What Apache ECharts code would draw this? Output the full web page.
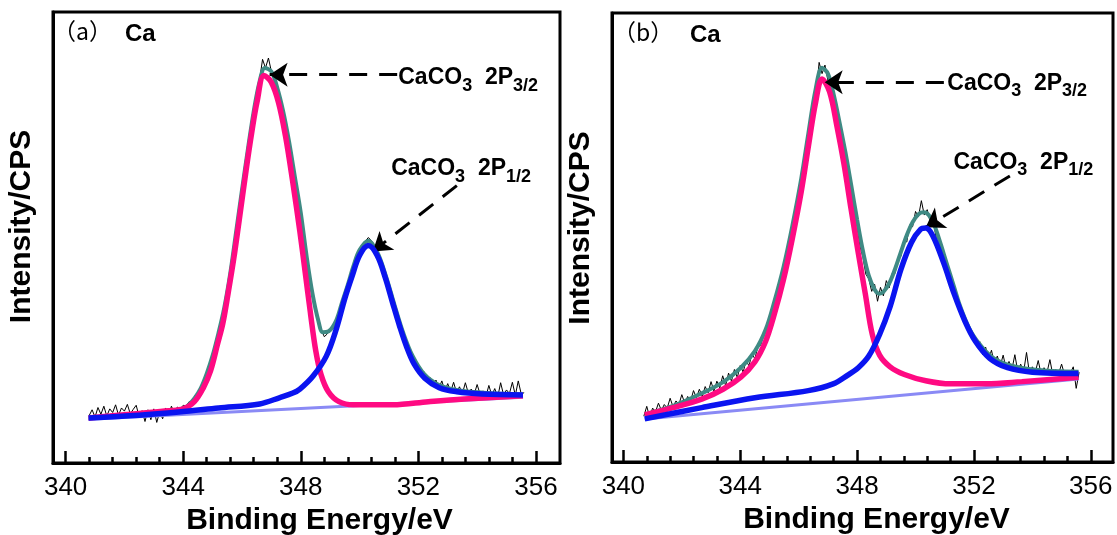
<!DOCTYPE html>
<html>
<head>
<meta charset="utf-8">
<script src="https://cdn.jsdelivr.net/npm/echarts@6.0.0/dist/echarts.min.js"></script>
<style>
  html, body { margin: 0; padding: 0; background: #fff; }
  #chart { width: 1117px; height: 535px; }
</style>
</head>
<body>
<div id="chart"></div>
<script>
// tick positions (eV)
const majorTicks = [340, 344, 348, 352, 356]
const minorTicks = [340.8, 341.6, 342.4, 343.2, 344.8, 345.6, 346.4, 347.2,
  348.8, 349.6, 350.4, 351.2, 352.8, 353.6, 354.4, 355.2]

// panel (a) fitted curves, [binding energy, intensity]
const aPink = [[340.78, 10.0], [341.5, 10.4], [342.5, 11.0], [343.5, 11.6], [344.0, 12.0],
  [344.38, 13.6], [344.68, 16.6], [344.93, 20.4], [345.17, 26.4], [345.35, 31.0],
  [345.53, 37.7], [345.72, 45.3], [345.9, 53.6], [346.14, 64.9], [346.33, 73.2],
  [346.51, 80.0], [346.75, 85.9], [346.99, 84.5], [347.24, 80.0], [347.48, 72.5],
  [347.72, 62.6], [347.97, 51.3], [348.15, 42.3], [348.33, 33.2], [348.51, 24.9],
  [348.69, 19.6], [348.94, 15.8], [349.3, 13.6], [349.79, 12.9], [351.13, 12.9],
  [352.34, 13.6], [353.56, 14.2], [355.56, 14.9]]
const aBlue = [[340.78, 10.0], [342.5, 10.6], [343.85, 11.3], [345.2, 12.2], [346.6, 13.1],
  [347.29, 14.5], [347.73, 15.5], [347.97, 16.4], [348.42, 19.3], [348.87, 23.7],
  [349.2, 29.5], [349.5, 36.5], [349.75, 41.5], [350.0, 46.0], [350.3, 48.2],
  [350.6, 46.0], [350.88, 41.0], [351.13, 35.4], [351.37, 30.2], [351.61, 25.6],
  [351.86, 21.9], [352.22, 18.8], [352.71, 16.7], [353.31, 15.8], [354.17, 15.3],
  [355.56, 15.1]]
const aBase = [[340.78, 9.7], [355.56, 14.6]]
const aEnv = [[340.78, 10.0], [343.9, 11.5], [344.2, 13.0], [344.4, 14.5], [344.6, 16.6],
  [344.8, 19.8], [345.0, 23.8], [345.2, 28.8], [345.4, 34.5], [345.6, 42.0],
  [345.8, 51.2], [346.0, 60.5], [346.2, 69.5], [346.4, 78.0], [346.6, 84.6],
  [346.78, 87.6], [347.0, 86.8], [347.2, 83.2], [347.4, 78.0], [347.6, 71.3],
  [347.8, 63.4], [348.0, 55.5], [348.2, 45.8], [348.4, 37.5], [348.6, 31.5],
  [348.75, 29.0], [348.95, 29.2], [349.2, 31.5], [349.4, 35.5], [349.6, 39.5],
  [349.8, 43.8], [350.0, 47.2], [350.3, 49.3], [350.6, 46.8], [350.9, 41.4],
  [351.2, 34.8], [351.5, 28.6], [351.8, 23.8], [352.2, 19.7], [352.7, 17.3],
  [353.3, 16.2], [354.2, 15.6], [355.56, 15.2]]
// panel (a) raw counts, 0.1 eV steps from 340.8
const aRawStart = 340.8
const aRaw = [10.5, 11.8, 10.2, 12.3, 10.8, 12.6, 10.4, 12.0, 11.2, 12.9,
  10.6, 12.2, 11.5, 13.0, 10.9, 11.9, 12.8, 10.3, 11.6, 9.2,
  11.8, 9.6, 12.0, 9.0, 11.4, 9.8, 12.2, 10.6, 12.6, 11.0,
  12.4, 12.0, 12.8, 12.6, 13.6, 13.5, 15.0, 15.2, 16.8, 17.9,
  19.6, 21.3, 24.0, 26.6, 29.0, 31.4, 34.8, 38.0, 42.3, 46.2,
  51.5, 55.6, 60.8, 65.2, 69.6, 73.6, 78.2, 81.0, 85.0, 89.5,
  87.6, 89.8, 86.8, 85.6, 83.4, 80.2, 78.4, 74.6, 71.8, 67.4,
  63.8, 58.8, 56.0, 50.4, 46.6, 41.2, 38.0, 34.0, 32.2, 29.6,
  28.0, 28.6, 29.6, 29.8, 31.5, 32.4, 34.5, 35.8, 38.4, 40.2,
  43.4, 45.0, 47.3, 47.9, 49.2, 50.0, 49.3, 48.4, 46.9, 45.2,
  43.5, 40.6, 39.0, 36.0, 34.6, 31.8, 30.6, 28.0, 27.2, 24.6,
  24.2, 21.8, 21.6, 19.4, 20.2, 18.2, 18.9, 17.2, 18.4, 16.6,
  18.2, 16.0, 17.6, 15.8, 17.9, 15.6, 16.9, 15.4, 17.8, 15.5,
  16.4, 15.2, 17.4, 15.3, 16.0, 14.8, 17.2, 15.0, 16.5, 14.6,
  17.8, 15.1, 16.2, 15.4, 17.9, 15.0, 18.2, 15.3, 15.6]

// panel (b) fitted curves
const bPink = [[340.73, 10.5], [341.7, 12.1], [342.68, 14.0], [343.41, 16.2], [344.02, 18.9],
  [344.5, 22.3], [344.87, 26.9], [345.17, 33.0], [345.48, 40.6], [345.78, 49.7],
  [346.09, 60.3], [346.33, 70.2], [346.58, 80.1], [346.8, 85.3], [347.06, 82.4],
  [347.31, 74.8], [347.55, 66.4], [347.79, 56.5], [348.04, 46.6], [348.28, 37.5],
  [348.52, 28.4], [348.77, 23.8], [349.13, 21.2], [349.62, 19.5], [350.35, 18.1],
  [351.2, 17.4], [352.42, 17.4], [353.64, 17.9], [355.58, 18.9]]
const bBlue = [[340.73, 9.6], [342.68, 12.1], [344.5, 14.3], [346.33, 15.9], [347.18, 17.4],
  [347.67, 19.3], [348.04, 21.0], [348.4, 23.6], [348.77, 28.4], [349.13, 34.6],
  [349.5, 42.9], [349.86, 48.9], [350.17, 51.8], [350.35, 52.1], [350.59, 50.4],
  [350.96, 44.4], [351.32, 37.5], [351.69, 31.4], [352.05, 26.9], [352.54, 23.1],
  [353.15, 21.0], [354.0, 20.0], [355.58, 19.7]]
const bBase = [[340.73, 9.6], [355.58, 18.5]]
const bEnv = [[340.73, 10.6], [341.7, 12.5], [342.68, 15.3], [343.41, 17.8], [344.02, 21.0],
  [344.5, 24.7], [344.87, 29.5], [345.17, 35.8], [345.48, 43.4], [345.78, 52.5],
  [346.09, 63.2], [346.33, 73.1], [346.58, 83.0], [346.8, 87.8], [347.0, 86.5],
  [347.2, 81.8], [347.4, 75.6], [347.6, 69.0], [347.8, 61.6], [348.0, 54.0],
  [348.2, 47.0], [348.4, 41.5], [348.6, 38.4], [348.75, 37.5], [348.9, 37.9],
  [349.1, 39.8], [349.3, 43.0], [349.5, 46.8], [349.7, 50.5], [349.9, 53.4],
  [350.1, 55.2], [350.28, 55.6], [350.45, 55.0], [350.65, 52.6], [350.85, 48.8],
  [351.05, 44.6], [351.3, 39.4], [351.5, 35.2], [351.7, 31.8], [351.9, 29.0],
  [352.1, 27.0], [352.4, 24.7], [352.7, 23.0], [353.1, 21.8], [353.6, 21.0],
  [354.2, 20.5], [355.0, 20.2], [355.58, 20.1]]
// panel (b) raw counts, 0.1 eV steps from 340.7
const bRawStart = 340.7
const bRaw = [10.2, 12.4, 10.0, 12.0, 11.2, 13.1, 11.5, 12.8, 12.0, 14.2,
  12.3, 13.6, 12.8, 15.0, 13.1, 14.6, 13.6, 15.9, 14.3, 16.2,
  14.6, 16.8, 15.4, 17.9, 15.8, 18.0, 16.5, 19.2, 17.0, 19.8,
  18.0, 20.6, 18.8, 21.5, 20.0, 22.6, 21.4, 24.1, 23.0, 25.6,
  26.0, 28.4, 29.2, 31.6, 32.8, 35.3, 37.0, 40.2, 42.4, 45.9,
  48.6, 52.6, 55.3, 59.4, 62.5, 66.8, 70.2, 74.5, 77.4, 82.0,
  89.0, 86.5, 88.4, 85.0, 83.6, 80.9, 77.2, 75.0, 70.6, 68.2,
  63.6, 60.8, 56.0, 52.4, 48.0, 45.6, 41.8, 40.8, 38.0, 39.6,
  35.8, 38.9, 37.0, 40.4, 38.8, 42.0, 42.0, 45.6, 45.8, 49.4,
  49.0, 52.8, 52.4, 55.8, 54.6, 58.2, 55.0, 56.2, 53.6, 53.8,
  50.2, 49.6, 46.4, 45.6, 42.0, 41.2, 37.8, 37.0, 33.8, 33.4,
  30.5, 30.4, 27.9, 28.2, 25.6, 26.8, 23.9, 25.6, 22.8, 24.9,
  21.9, 23.6, 21.4, 23.8, 20.8, 22.4, 20.6, 23.9, 20.2, 21.8,
  20.0, 24.4, 19.8, 21.2, 20.0, 22.6, 19.6, 21.0, 19.9, 22.8,
  19.4, 20.6, 19.7, 21.8, 19.5, 20.4, 19.8, 21.2, 16.4, 20.0]

// annotations: label anchor, arrow start -> arrow tip
const aNotes = [
  {sub: '3/2', text: [351.30, 84.8], from: [351.28, 86.1], to: [346.94, 86.1]},
  {sub: '1/2', text: [351.06, 64.6], from: [353.31, 61.5], to: [350.45, 46.9]}
]
const bNotes = [
  {sub: '3/2', text: [351.07, 83.7], from: [350.97, 84.6], to: [346.89, 84.6]},
  {sub: '1/2', text: [351.28, 66.1], from: [353.23, 63.7], to: [350.35, 52.3]}
]

const FONT = 'Liberation Sans, Arial, sans-serif'

function rawPairs(start, vals) {
  return vals.map((v, i) => [+(start + i * 0.1).toFixed(2), v])
}

function curve(data, color, width, xi, yi, z) {
  return {
    type: 'line', data: data, xAxisIndex: xi, yAxisIndex: yi, z: z,
    showSymbol: false, smooth: 0.35, silent: true,
    lineStyle: {color: color, width: width}
  }
}

function rawSeries(data, notes, xi, yi) {
  return {
    type: 'line', data: data, xAxisIndex: xi, yAxisIndex: yi, z: 1,
    showSymbol: false, silent: true,
    lineStyle: {color: '#000', width: 1},
    markLine: {
      silent: true, animation: false,
      symbol: ['none', 'arrow'], symbolSize: 18,
      label: {show: false},
      lineStyle: {color: '#000', width: 3, type: [18, 12]},
      data: notes.map(n => [{coord: n.from}, {coord: n.to}])
    },
    markPoint: {
      silent: true, animation: false,
      symbol: 'circle', symbolSize: 1,
      itemStyle: {color: 'rgba(0,0,0,0)'},
      label: {
        show: true, position: 'right', distance: 0,
        rich: {
          m: {fontFamily: FONT, fontWeight: 'bold', fontSize: 23, color: '#000', lineHeight: 24, verticalAlign: 'top'},
          s: {fontFamily: FONT, fontWeight: 'bold', fontSize: 18, color: '#000', lineHeight: 28, verticalAlign: 'bottom'}
        }
      },
      data: notes.map(n => ({coord: n.text, label: {formatter: '{m|CaCO}{s|3}{m|  2P}{s|' + n.sub + '}'}}))
    }
  }
}

function xMain(gi, min, max, namePad) {
  return {
    gridIndex: gi, type: 'value', min: min, max: max, position: 'bottom',
    axisLine: {lineStyle: {color: '#000', width: 3}},
    axisTick: {inside: true, length: 12, customValues: majorTicks, lineStyle: {color: '#000', width: 2.5}},
    axisLabel: {customValues: majorTicks, fontSize: 26, color: '#000', margin: 12, fontFamily: FONT},
    splitLine: {show: false},
    name: 'Binding Energy/eV', nameLocation: 'middle', nameGap: 41,
    nameTextStyle: {fontSize: 30, fontWeight: 'bold', color: '#000', fontFamily: FONT, padding: [0, 0, 0, namePad]}
  }
}

function xMinor(gi, min, max) {
  return {
    gridIndex: gi, type: 'value', min: min, max: max, position: 'bottom',
    axisLine: {show: false},
    axisTick: {inside: true, length: 6, customValues: minorTicks, lineStyle: {color: '#000', width: 2.5}},
    axisLabel: {show: false},
    splitLine: {show: false}
  }
}

function yAxis(gi, namePad) {
  return {
    gridIndex: gi, type: 'value', min: 0, max: 100,
    axisLine: {show: true, lineStyle: {color: '#000', width: 3}},
    axisTick: {show: false}, axisLabel: {show: false}, splitLine: {show: false},
    name: 'Intensity/CPS', nameLocation: 'middle', nameGap: 16,
    nameTextStyle: {fontSize: 30, fontWeight: 'bold', color: '#000', fontFamily: FONT, padding: [0, 0, 0, namePad]}
  }
}

function panelLabel(letter, pLeft, pTop, cLeft, cTop) {
  return [
    {type: 'text', left: pLeft, top: pTop, silent: true,
      style: {text: '（' + letter + '）', fontSize: 23, fontFamily: 'Noto Sans CJK SC', fill: '#000'}},
    {type: 'text', left: cLeft, top: cTop, silent: true,
      style: {text: 'Ca', fontSize: 24, fontWeight: 'bold', fontFamily: FONT, fill: '#000'}}
  ]
}

const chart = echarts.init(document.getElementById('chart'), null, {renderer: 'canvas'})
chart.setOption({
  animation: false,
  backgroundColor: '#fff',
  grid: [
    {left: 53, top: 12, width: 507, height: 451, show: true, borderColor: '#000', borderWidth: 3, outerBoundsMode: 'none'},
    {left: 612, top: 13, width: 501, height: 449, show: true, borderColor: '#000', borderWidth: 3, outerBoundsMode: 'none'}
  ],
  xAxis: [
    xMain(0, 339.57, 356.82, 26), xMinor(0, 339.57, 356.82),
    xMain(1, 339.61, 356.76, 28), xMinor(1, 339.61, 356.76)
  ],
  yAxis: [yAxis(0, 22), yAxis(1, 19)],
  graphic: panelLabel('a', 53, 20, 125, 22).concat(panelLabel('b', 613, 21, 690, 23)),
  series: [
    rawSeries(rawPairs(aRawStart, aRaw), aNotes, 0, 0),
    curve(aEnv, '#3f8a84', 4, 0, 0, 2),
    curve(aBase, '#8a8af5', 3, 0, 0, 3),
    curve(aPink, '#ff0a82', 5.5, 0, 0, 4),
    curve(aBlue, '#0a14f0', 5.5, 0, 0, 5),
    rawSeries(rawPairs(bRawStart, bRaw), bNotes, 2, 1),
    curve(bEnv, '#3f8a84', 4, 2, 1, 2),
    curve(bBase, '#8a8af5', 3, 2, 1, 3),
    curve(bPink, '#ff0a82', 5.5, 2, 1, 4),
    curve(bBlue, '#0a14f0', 5.5, 2, 1, 5)
  ]
})
</script>
</body>
</html>
